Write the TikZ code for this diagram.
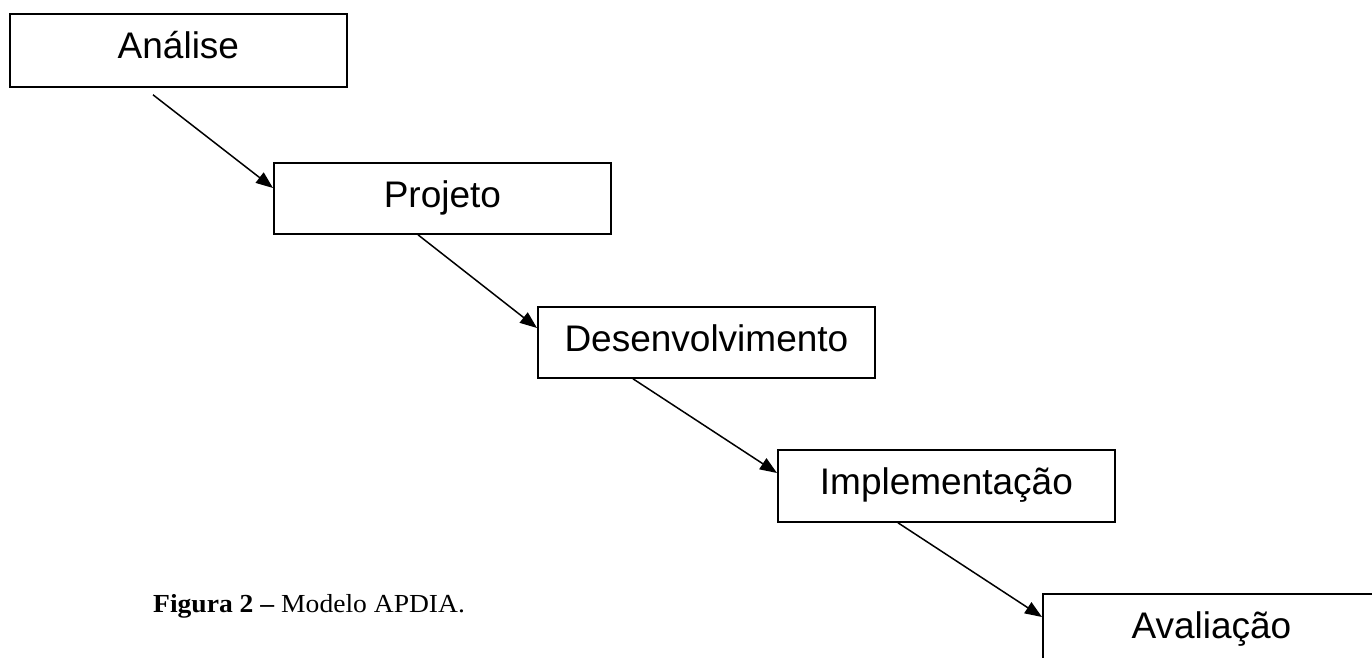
\documentclass[tikz,border=0pt]{standalone}
\usepackage{fontspec}
\setmainfont{Liberation Serif}
\newfontfamily\capfont[FakeStretch=1.06]{Liberation Serif}
\newfontfamily\boxfont{Liberation Sans}
\usetikzlibrary{arrows.meta}
\tikzset{
  stagebox/.style={draw=black, line width=1.8bp, fill=white, anchor=north west,
    minimum width=337bp, inner sep=0pt, text height=45bp, text depth=27bp,
    font=\boxfont\fontsize{37bp}{44bp}\selectfont},
  flowarrow/.style={draw=black, line width=1.5bp,
    -{Triangle[length=17bp,width=13bp]}},
  captext/.style={anchor=base west, inner sep=0pt,
    font=\capfont\fontsize{26bp}{30bp}\selectfont}
}
\begin{document}
\begin{tikzpicture}[x=1bp,y=-1bp]
\useasboundingbox (0,0) rectangle (1372,658);
\clip (0,0) rectangle (1372,658);
\fill[white] (0,0) rectangle (1372,658);

\node[stagebox, text depth=28bp] (ana) at (9,13) {Análise};
\node[stagebox, text depth=26bp] (proj) at (273,162) {Projeto};
\node[stagebox, text depth=26bp] (dev) at (537,306) {Desenvolvimento};
\node[stagebox] (impl) at (777,449) {Implementação};
\node[stagebox] (aval) at (1042,593) {Avaliação};

\draw[flowarrow] ([xshift=144bp,yshift=-7bp]ana.south west) -- ([yshift=-26bp]proj.north west);
\draw[flowarrow] ([xshift=145bp]proj.south west) -- ([yshift=-22bp]dev.north west);
\draw[flowarrow] ([xshift=96bp]dev.south west) -- ([yshift=-24bp]impl.north west);
\draw[flowarrow] ([xshift=121bp]impl.south west) -- ([yshift=-24bp]aval.north west);

\node[captext] (cap) at (153,612) {\textbf{Figura 2 –} Modelo APDIA.};
\end{tikzpicture}
\end{document}
